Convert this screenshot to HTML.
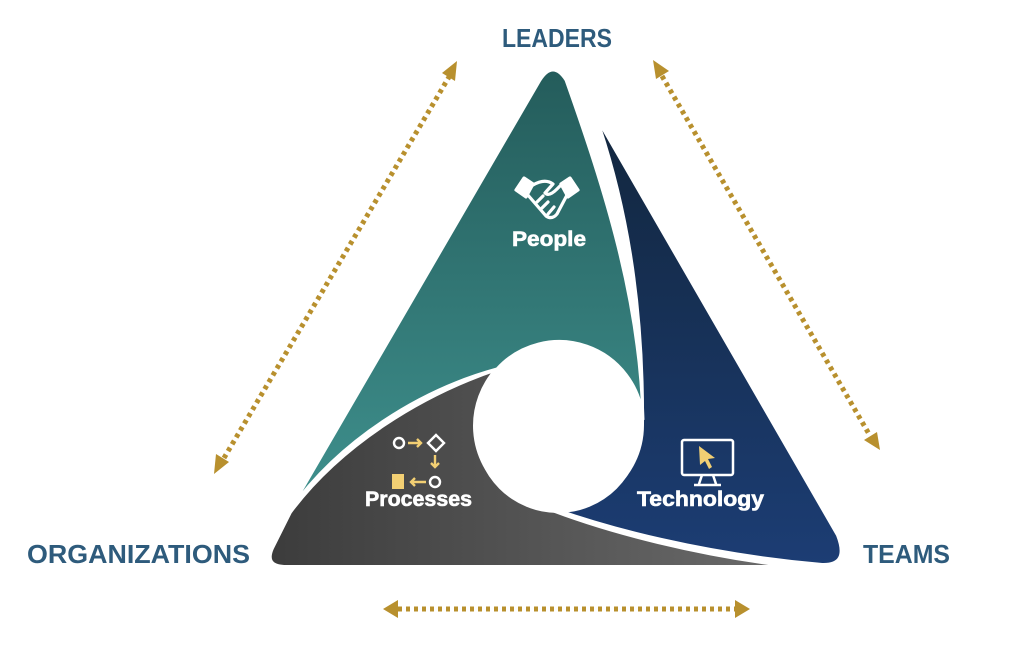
<!DOCTYPE html>
<html><head><meta charset="utf-8"><style>
html,body{margin:0;padding:0;background:#fff;}
body{width:1024px;height:644px;overflow:hidden;}
</style></head><body>
<svg width="1024" height="644" viewBox="0 0 1024 644" xmlns="http://www.w3.org/2000/svg">
<defs>
<linearGradient id="gt" x1="0" y1="0" x2="0" y2="1"><stop offset="0" stop-color="#245c5b"/><stop offset="1" stop-color="#3f918e"/></linearGradient>
<linearGradient id="gn" x1="0" y1="0" x2="0" y2="1"><stop offset="0" stop-color="#12263d"/><stop offset="1" stop-color="#1c3d74"/></linearGradient>
<linearGradient id="gg" x1="0" y1="0" x2="1" y2="0"><stop offset="0" stop-color="#3c3c3c"/><stop offset="1" stop-color="#6c6c6c"/></linearGradient>
</defs>
<!-- navy -->
<path d="M594,112 L838,535 Q850,566 822,565 C720,556 600,532 505,490 A84,84 0 0 0 642,425 C643,300 625,200 594,112 Z" fill="url(#gn)" stroke="#fff" stroke-width="4"/>
<!-- gray -->
<path d="M290,512 C340,445 420,395 497,369 A84,84 0 0 0 505,490 C600,535 720,558 800,567 L284,567 Q264,566 272,548 Z" fill="url(#gg)" stroke="#fff" stroke-width="4"/>
<!-- teal -->
<path d="M566,80 C605,190 640,300 643,420 A84,84 0 0 0 497,369 C420,390 340,440 290,510 L540,80 Q553,60 566,80 Z" fill="url(#gt)" stroke="#fff" stroke-width="3"/>
<circle cx="558" cy="430" r="83" fill="#fff"/>
<!-- dotted arrows -->
<g stroke="#b8902e" stroke-width="5" stroke-dasharray="4,4" fill="none">
<line x1="224" y1="458" x2="449" y2="77"/>
<line x1="662" y1="76" x2="869" y2="434"/>
<line x1="398" y1="609" x2="735" y2="609"/>
</g>
<g fill="#b8902e">
<polygon points="457,61 455,81 442,73"/>
<polygon points="214,474 216,454 229,462"/>
<polygon points="653,60 669,71 656,79"/>
<polygon points="880,450 864,440 877,432"/>
<polygon points="383,609 398,600 398,618"/>
<polygon points="750,609 735,600 735,618"/>
</g>
<!-- labels -->
<g font-family="Liberation Sans, sans-serif" font-weight="bold" fill="#2e5b7c" font-size="26">
<text x="502" y="47" textLength="110" lengthAdjust="spacingAndGlyphs">LEADERS</text>
<text x="27" y="563" textLength="223" lengthAdjust="spacingAndGlyphs">ORGANIZATIONS</text>
<text x="863" y="563" textLength="87" lengthAdjust="spacingAndGlyphs">TEAMS</text>
</g>
<g font-family="Liberation Sans, sans-serif" font-weight="bold" fill="#fff" font-size="21" stroke="#fff" stroke-width="0.6">
<text x="512" y="246" textLength="74" lengthAdjust="spacingAndGlyphs">People</text>
<text x="365" y="506" textLength="107" lengthAdjust="spacingAndGlyphs">Processes</text>
<text x="637" y="506" textLength="127" lengthAdjust="spacingAndGlyphs">Technology</text>
</g>
<!-- handshake icon -->
<g fill="none" stroke="#fff" stroke-width="3.2" stroke-linejoin="round" stroke-linecap="round">
<path d="M516,190 L524,178 L533,184 L526,197 Z" fill="#fff"/>
<path d="M578,190 L570,178 L561,184 L568,197 Z" fill="#fff"/>
<path d="M527,194 L546,216 Q552,220 557,214 L567,195"/>
<path d="M533,185 Q545,178 553,184 L545,193 Q549,197 557,189 L561,185"/>
<path d="M542,208 L548,202 M548,214 L554,207 M537,202 L543,196"/>
</g>
<!-- process icon -->
<g stroke="#fff" stroke-width="2.4" fill="none">
<circle cx="399" cy="443" r="5"/>
<polygon points="436,435 444,443 436,451 428,443"/>
<circle cx="435" cy="482" r="5"/>
</g>
<g stroke="#f2cf73" stroke-width="2.4" fill="none">
<path d="M408,443 L421,443 M417,439 L421,443 L417,447"/>
<path d="M435,455 L435,467 M431,463 L435,467 L439,463"/>
<path d="M426,482 L411,482 M415,478 L411,482 L415,486"/>
</g>
<rect x="392" y="474" width="12" height="15" fill="#f2cf73"/>
<!-- monitor icon -->
<g stroke="#fff" stroke-width="2.5" fill="none">
<rect x="682" y="440" width="51" height="35" rx="2"/>
<path d="M702,475 L699,484 M713,475 L716,484 M694,485 L721,485"/>
</g>
<polygon points="699,446 715,458 708,459 712,467 709,469 705,461 700,465" fill="#f2cf73"/>
</svg>
</body></html>
